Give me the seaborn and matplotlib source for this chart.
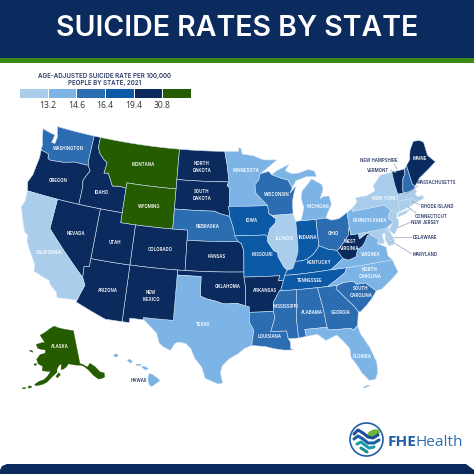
"""
Suicide rates by state - choropleth rebuilt from hand-digitised state outlines
"""

import numpy as np
import pandas as pd
import matplotlib.pyplot as plt
import seaborn as sns
from matplotlib.colors import ListedColormap
from matplotlib.patches import Polygon, Circle, Ellipse

# ============================================================
# 1. DATA
# ============================================================
legend_values = ['13.2', '14.6', '16.4', '19.4', '30.8']
class_colors = ['#A9CDEA', '#7DB4E6', '#2C6DB2', '#0C59A6', '#0B2A5E', '#265C00']

# rate class (0 = lowest, 5 = highest) of each state
class_0 = ['CA', 'IL', 'NY', 'NJ', 'MA', 'CT', 'RI', 'MD', 'DE']
class_1 = ['MN', 'MI', 'TX', 'FL', 'PA', 'VA', 'NC', 'HI']
class_2 = ['WA', 'NE', 'WI', 'OH', 'SC', 'GA', 'AL', 'MS', 'LA', 'NH']
class_3 = ['IA', 'MO', 'IN', 'KY', 'TN']
class_4 = ['OR', 'ID', 'NV', 'UT', 'CO', 'AZ', 'NM', 'KS', 'OK', 'ND', 'SD', 'AR', 'WV', 'ME', 'VT']
class_5 = ['MT', 'WY', 'AK']

# state outlines, (lon, lat)
WA = [(-124.7,48.38),(-123.2,48.15),(-122.75,48.15),(-122.9,47.3),(-122.4,47.3),(-122.3,48.0),(-122.75,49),(-117.03,49),(-117.04,46.42),(-116.92,45.99),(-118.98,46),(-119.3,45.93),(-120.5,45.7),(-121.2,45.65),(-122.3,45.55),(-122.76,45.65),(-122.9,46.1),(-123.4,46.2),(-124.05,46.27),(-124.1,46.9),(-124.4,47.5)]
OR = [(-124.05,46.27),(-123.4,46.2),(-122.9,46.1),(-122.76,45.65),(-122.3,45.55),(-121.2,45.65),(-120.5,45.7),(-119.3,45.93),(-118.98,46),(-116.92,45.99),(-116.5,45.5),(-116.85,45),(-117.2,44.4),(-117.03,43.8),(-117.03,42),(-124.21,42),(-124.55,42.85),(-124.15,43.7),(-124.05,44.7),(-123.95,45.5)]
ID = [(-117.03,49),(-116.05,49),(-116.05,48),(-115.7,47.45),(-114.9,46.9),(-114.35,46.65),(-114.5,45.55),(-113.9,45.65),(-113.45,45.05),(-113,44.45),(-112,44.55),(-111.05,44.48),(-111.05,42),(-117.03,42),(-117.03,43.8),(-117.2,44.4),(-116.85,45),(-116.5,45.5),(-116.92,45.99),(-117.04,46.42)]
MT = [(-116.05,49),(-104.05,49),(-104.05,45),(-111.05,45),(-111.05,44.48),(-112,44.55),(-113,44.45),(-113.45,45.05),(-113.9,45.65),(-114.5,45.55),(-114.35,46.65),(-114.9,46.9),(-115.7,47.45),(-116.05,48)]
WY = [(-111.05,45),(-104.05,45),(-104.05,41),(-111.05,41)]
ND = [(-104.05,49),(-97.23,49),(-96.85,47.6),(-96.56,45.94),(-104.05,45.94)]
SD = [(-104.05,45.94),(-96.56,45.94),(-96.85,45.6),(-96.45,45.3),(-96.45,43.5),(-96.6,43.5),(-96.45,42.5),(-97.9,42.8),(-98.5,43),(-104.05,43)]
NE = [(-104.05,43),(-98.5,43),(-97.9,42.8),(-96.45,42.5),(-96.1,41.7),(-95.9,41.2),(-95.3,40),(-102.05,40),(-102.05,41),(-104.05,41)]
CO = [(-109.05,41),(-102.05,41),(-102.05,37),(-109.05,37)]
KS = [(-102.05,40),(-95.3,40),(-94.9,39.8),(-94.6,39.1),(-94.62,37),(-102.05,37)]
OK = [(-103,37),(-94.62,37),(-94.62,36.5),(-94.43,35.4),(-94.48,33.64),(-95.5,33.9),(-96.6,33.85),(-97.2,33.85),(-98.1,34.1),(-99.2,34.3),(-100,34.56),(-100,36.5),(-103,36.5)]
TX = [(-103,36.5),(-100,36.5),(-100,34.56),(-99.2,34.3),(-98.1,34.1),(-97.2,33.85),(-96.6,33.85),(-95.5,33.9),(-94.48,33.64),(-94.04,33.55),(-94.04,33),(-94.04,32),(-93.55,31.2),(-93.7,30.5),(-93.85,29.7),(-94.7,29.4),(-95.4,28.9),(-96.4,28.4),(-97.2,27.7),(-97.4,27),(-97.15,25.95),(-97.6,25.85),(-98.2,26.05),(-99.1,26.4),(-99.5,27.5),(-100.3,28.3),(-100.8,29.25),(-101.4,29.77),(-102.3,29.88),(-102.7,29.7),(-103.15,28.98),(-104,29.3),(-104.5,29.65),(-104.9,30.6),(-106,31.4),(-106.53,31.78),(-106.62,32),(-103.06,32)]
NM = [(-109.05,37),(-103,37),(-103,36.5),(-103.06,32),(-106.62,32),(-106.53,31.78),(-108.2,31.78),(-108.2,31.33),(-109.05,31.33)]
AZ = [(-114.05,37),(-109.05,37),(-109.05,31.33),(-111.07,31.33),(-114.8,32.5),(-114.72,32.72),(-114.5,33.4),(-114.15,34.3),(-114.6,35),(-114.7,36.1),(-114.05,36.2)]
UT = [(-114.05,42),(-111.05,42),(-111.05,41),(-109.05,41),(-109.05,37),(-114.05,37)]
NV = [(-120,42),(-114.05,42),(-114.05,36.2),(-114.7,36.1),(-114.6,35),(-120,39)]
CA = [(-124.21,42),(-120,42),(-120,39),(-114.6,35),(-114.15,34.3),(-114.5,33.4),(-114.72,32.72),(-117.12,32.53),(-117.3,33),(-118.4,33.75),(-118.5,34.03),(-119.2,34.15),(-120.6,34.55),(-120.65,35.15),(-121.9,36.6),(-122.4,37.2),(-122.5,37.8),(-123,38),(-123.8,39.3),(-124.35,40.3),(-124.1,41)]
MN = [(-97.23,49),(-95.15,49),(-95.15,49.38),(-94.8,49.3),(-94.6,48.72),(-93,48.55),(-91.5,48.07),(-89.5,48),(-92.05,46.7),(-92.3,46.1),(-92.88,45.6),(-92.75,44.75),(-91.2,43.5),(-96.45,43.5),(-96.45,45.3),(-96.85,45.6),(-96.56,45.94),(-96.85,47.6)]
IA = [(-96.6,43.5),(-91.2,43.5),(-91.1,42.7),(-90.15,42.1),(-90.3,41.7),(-91.05,41.2),(-91.4,40.4),(-91.7,40.6),(-95.77,40.58),(-95.9,41.2),(-96.1,41.7),(-96.45,42.5)]
MO = [(-95.77,40.58),(-91.7,40.6),(-91.4,40.4),(-91.5,40),(-90.7,39),(-90.2,38.8),(-90.2,38.4),(-89.5,37.3),(-89.15,37),(-89.5,36.5),(-89.7,36),(-90.37,36),(-90.15,36.5),(-94.62,36.5),(-94.62,37),(-94.6,39.1),(-94.9,39.8),(-95.3,40)]
AR = [(-94.62,36.5),(-90.15,36.5),(-90.37,36),(-89.7,36),(-90.1,35.1),(-90.6,34.6),(-91.1,33.9),(-91.17,33),(-94.04,33),(-94.04,33.55),(-94.48,33.64),(-94.43,35.4)]
LA = [(-94.04,33),(-91.17,33),(-91,32.4),(-91.6,31),(-89.73,31),(-89.6,30.2),(-89.4,29.9),(-89.4,29.2),(-89.1,29.05),(-90.2,29.1),(-91.3,29.3),(-92.3,29.55),(-93.85,29.7),(-93.7,30.5),(-93.55,31.2),(-94.04,32)]
WI = [(-92.05,46.7),(-90.8,46.9),(-90.4,46.55),(-89.1,46.15),(-88.1,45.9),(-87.6,45.1),(-87.95,44.6),(-87.05,45.25),(-87.5,44.4),(-87.75,43.7),(-87.8,42.5),(-90.64,42.5),(-91.1,42.7),(-91.2,43.5),(-92.75,44.75),(-92.88,45.6),(-92.3,46.1)]
IL = [(-90.64,42.5),(-87.8,42.5),(-87.53,41.7),(-87.53,39.3),(-87.6,38.7),(-88.05,37.8),(-88.45,37.1),(-89.15,37),(-89.5,37.3),(-90.2,38.4),(-90.2,38.8),(-90.7,39),(-91.5,40),(-91.4,40.4),(-91.05,41.2),(-90.3,41.7),(-90.15,42.1)]
IN = [(-87.53,41.7),(-87.2,41.75),(-86.8,41.76),(-84.8,41.73),(-84.82,39.1),(-85.2,38.7),(-85.75,38.27),(-86.5,37.93),(-87.1,37.8),(-88.05,37.8),(-87.6,38.7),(-87.53,39.3)]
MI_LOWER = [(-86.8,41.76),(-84.8,41.73),(-83.45,41.73),(-83.1,42.25),(-82.45,43),(-82.6,43.85),(-83.4,43.9),(-83.9,43.7),(-83.3,44.6),(-83.4,45.1),(-84.75,45.78),(-85.5,45.2),(-86.25,44.7),(-86.5,44),(-86.25,43)]
MI_UPPER = [(-90.4,46.55),(-89.1,46.15),(-88.1,45.9),(-87.6,45.1),(-87,45.75),(-85.5,46.05),(-84,45.95),(-84.2,46.5),(-85,46.75),(-86.5,46.5),(-87.5,46.5),(-88.4,46.85),(-87.8,47.45),(-88.7,47.2),(-89.8,46.85)]
OH = [(-84.8,41.73),(-83.45,41.73),(-82.7,41.45),(-81.7,41.5),(-80.52,41.97),(-80.52,40.64),(-80.85,39.7),(-81.7,39),(-82.2,38.6),(-82.6,38.42),(-83.7,38.65),(-84.82,39.1)]
KY = [(-89.5,36.5),(-89.15,37),(-88.45,37.1),(-88.05,37.8),(-87.1,37.8),(-86.5,37.93),(-85.75,38.27),(-85.2,38.7),(-84.82,39.1),(-83.7,38.65),(-82.6,38.42),(-81.97,37.54),(-83.68,36.6),(-88.07,36.5)]
TN = [(-90.3,35),(-90.1,35.1),(-89.7,36),(-89.5,36.5),(-88.07,36.5),(-83.68,36.6),(-81.68,36.59),(-82,36.1),(-84.32,35)]
MS = [(-90.3,35),(-88.2,35),(-88.47,31.9),(-88.4,30.2),(-89.6,30.2),(-89.73,31),(-91.6,31),(-91,32.4),(-91.17,33),(-91.1,33.9),(-90.6,34.6)]
AL = [(-88.2,35),(-85.6,35),(-85.18,32.87),(-85,31),(-87.6,31),(-87.5,30.3),(-88.4,30.2),(-88.47,31.9)]
GA = [(-85.6,35),(-83.1,35),(-83.35,34.7),(-81.4,32.6),(-81.1,32.1),(-81.45,30.72),(-82.05,30.36),(-82.2,30.57),(-84.86,30.7),(-85,31),(-85.18,32.87)]
FL = [(-87.6,31),(-85,31),(-84.86,30.7),(-82.2,30.57),(-82.05,30.36),(-81.45,30.72),(-81.25,29.9),(-80.45,28.4),(-79.95,26.8),(-80.05,25.75),(-80.4,25.15),(-81.1,25.15),(-81.75,26),(-82.2,26.9),(-82.7,27.7),(-82.7,28.6),(-83.4,29.5),(-84,30.1),(-85.3,29.7),(-86.2,30.4),(-87.5,30.3)]
FL_KEYS = [(-81.9,24.55),(-81.3,24.7),(-81.1,24.6),(-81.7,24.45)]
SC = [(-83.35,34.7),(-83.1,35),(-82.3,35.2),(-81.05,35.15),(-80.8,34.82),(-79.67,34.8),(-78.55,33.85),(-79.2,33.2),(-80,32.6),(-80.85,32.05),(-81.1,32.1),(-81.4,32.6)]
NC = [(-84.32,35),(-82,36.1),(-81.68,36.59),(-75.87,36.55),(-75.5,35.25),(-76.5,34.65),(-77.9,33.9),(-78.55,33.85),(-79.67,34.8),(-80.8,34.82),(-81.05,35.15),(-82.3,35.2),(-83.1,35)]
VA = [(-83.68,36.6),(-81.97,37.54),(-81.3,37.3),(-80.3,37.5),(-79.95,38.2),(-79.3,38.4),(-78.87,38.77),(-78.35,39.4),(-77.75,39.3),(-77.05,38.8),(-77.3,38.4),(-76.3,37.9),(-76.3,37),(-75.87,36.55),(-81.68,36.59)]
WV = [(-82.6,38.42),(-82.2,38.6),(-81.7,39),(-80.85,39.7),(-80.52,40.64),(-80.52,39.72),(-79.48,39.72),(-79.48,39.2),(-78.4,39.62),(-77.75,39.3),(-78.35,39.4),(-78.87,38.77),(-79.3,38.4),(-79.95,38.2),(-80.3,37.5),(-81.3,37.3),(-81.97,37.54)]
MD = [(-79.48,39.72),(-75.79,39.72),(-75.7,38.46),(-75.05,38.45),(-75.25,38.03),(-75.9,37.95),(-76.2,38.6),(-76.05,39.3),(-76.5,39.2),(-76.4,38.3),(-77.3,38.4),(-77.05,38.8),(-77.75,39.3),(-78.4,39.62),(-79.48,39.2)]
DE = [(-75.79,39.72),(-75.5,39.83),(-75.55,39.45),(-75.05,38.45),(-75.7,38.46)]
PA = [(-80.52,41.97),(-79.76,42.27),(-79.76,42),(-75.35,42),(-74.7,41.36),(-75.1,40.95),(-75.2,40.6),(-74.72,40.15),(-75.5,39.83),(-75.79,39.72),(-80.52,39.72)]
NJ = [(-74.7,41.36),(-73.9,41),(-74.2,40.5),(-73.98,40.3),(-74.1,39.75),(-74.9,38.95),(-75.5,39.5),(-74.72,40.15),(-75.2,40.6),(-75.1,40.95)]
NY = [(-79.76,42),(-79.76,42.27),(-78.9,42.85),(-79.05,43.27),(-77.5,43.25),(-76.2,43.55),(-76.3,44.1),(-75,44.98),(-73.34,45.01),(-73.35,43.75),(-73.25,42.75),(-73.5,42.05),(-73.5,41.3),(-73.65,41),(-73.9,41),(-74.7,41.36),(-75.35,42)]
LONG_ISLAND = [(-74,40.6),(-73.7,40.88),(-72.6,40.98),(-72,41.08),(-72.8,40.7),(-73.9,40.55)]
CT = [(-73.5,42.05),(-71.8,42.02),(-71.85,41.32),(-73.65,41),(-73.5,41.3)]
RI = [(-71.8,42.02),(-71.38,42.02),(-71.2,41.5),(-71.85,41.32)]
MA = [(-73.5,42.05),(-73.25,42.75),(-72.46,42.73),(-71.3,42.7),(-70.85,42.87),(-70.65,42.6),(-71,42.3),(-70.6,41.95),(-70.05,42.05),(-70,41.7),(-70.6,41.6),(-71.2,41.5),(-71.38,42.02),(-71.8,42.02)]
VT = [(-73.34,45.01),(-71.5,45.01),(-71.6,44.5),(-72.05,44.1),(-72.45,43),(-72.46,42.73),(-73.25,42.75),(-73.35,43.75)]
NH = [(-71.5,45.01),(-71.08,45.3),(-70.98,43.4),(-70.7,43.07),(-70.85,42.87),(-71.3,42.7),(-72.46,42.73),(-72.45,43),(-72.05,44.1),(-71.6,44.5)]
ME = [(-71.08,45.3),(-70.4,45.8),(-70.25,46.2),(-70,46.7),(-69.2,47.45),(-68.3,47.35),(-67.8,47.07),(-67.8,45.7),(-67.45,45.3),(-67,44.85),(-68.5,44.25),(-69.8,43.75),(-70.7,43.07),(-70.98,43.4)]

AK = [(-141,69.65),(-141,60.3),(-139.5,59.9),(-137.5,58.9),(-135.5,59.7),(-133.4,58.4),(-131.8,56.6),(-130,55.9),(-130.5,54.8),(-131.8,54.7),(-133.6,54.8),(-135.5,56.2),(-136.6,57.4),(-137.5,58.2),(-139,59.2),(-140.5,59.75),(-143,60),(-145,60.3),(-147.5,60.7),(-148.5,60),(-150.5,59.3),(-151.8,59.2),(-151.5,60.8),(-150,61.2),(-152.8,60.4),(-154,59.4),(-154,58.5),(-156.5,57.2),(-159,55.6),(-161,54.9),(-164,54.3),(-164.8,54.6),(-163,55.6),(-160.5,56.3),(-158.8,57.4),(-157.5,58.7),(-159,58.6),(-162,58.7),(-162,59.9),(-164.7,60.4),(-166,61.6),(-164.5,63),(-161.5,63.6),(-161.5,64.5),(-163.8,64.5),(-166.5,64.6),(-168.1,65.6),(-164,66.5),(-162.5,66.4),(-163.7,67.1),(-166.7,68.35),(-163.5,69.3),(-160,70.5),(-156.6,71.35),(-152,70.8),(-146,70.2)]
AK_KODIAK = [(-154.6,57.4),(-153,58.4),(-152.2,57.8),(-153.8,56.9)]
AK_NUNIVAK = [(-167,60.2),(-165.6,60.4),(-165.6,59.9),(-166.8,59.85)]
AK_STLAWRENCE = [(-171.7,63.5),(-170,63.7),(-168.8,63.3),(-170.5,63.3)]
AK_ALEUT1 = [(-167.5,53.9),(-166,54),(-166.2,53.5),(-167.6,53.3)]
AK_ALEUT2 = [(-170,53),(-168.5,53.3),(-168.8,52.9),(-170,52.7)]

HI_KAUAI = [(-159.75,22.05),(-159.55,22.22),(-159.3,22.15),(-159.35,21.9),(-159.6,21.9)]
HI_OAHU = [(-158.25,21.55),(-158,21.7),(-157.7,21.45),(-157.95,21.3)]
HI_MOLOKAI = [(-157.3,21.2),(-156.75,21.17),(-156.85,21.05),(-157.3,21.08)]
HI_MAUI = [(-156.7,20.9),(-156.5,21),(-156,20.75),(-156.3,20.6),(-156.5,20.75)]
HI_BIG = [(-155.9,20.25),(-155.55,20.12),(-155,19.75),(-154.8,19.5),(-155.65,18.95),(-155.9,19.1),(-156.05,19.7)]

lower48 = {'WA': [WA], 'OR': [OR], 'ID': [ID], 'MT': [MT], 'WY': [WY], 'ND': [ND], 'SD': [SD], 'NE': [NE],
           'CO': [CO], 'KS': [KS], 'OK': [OK], 'TX': [TX], 'NM': [NM], 'AZ': [AZ], 'UT': [UT], 'NV': [NV],
           'CA': [CA], 'MN': [MN], 'IA': [IA], 'MO': [MO], 'AR': [AR], 'LA': [LA], 'WI': [WI], 'IL': [IL],
           'IN': [IN], 'MI': [MI_LOWER, MI_UPPER], 'OH': [OH], 'KY': [KY], 'TN': [TN], 'MS': [MS], 'AL': [AL],
           'GA': [GA], 'FL': [FL, FL_KEYS], 'SC': [SC], 'NC': [NC], 'VA': [VA], 'WV': [WV], 'MD': [MD],
           'DE': [DE], 'PA': [PA], 'NJ': [NJ], 'NY': [NY, LONG_ISLAND], 'CT': [CT], 'RI': [RI], 'MA': [MA],
           'VT': [VT], 'NH': [NH], 'ME': [ME]}
alaska = [AK, AK_KODIAK, AK_NUNIVAK, AK_STLAWRENCE, AK_ALEUT1, AK_ALEUT2]
hawaii = [HI_KAUAI, HI_OAHU, HI_MOLOKAI, HI_MAUI, HI_BIG]

# labels inside the states
white_labels = ['WASHINGTON', 'MONTANA', 'NORTH\nDAKOTA', 'OREGON', 'IDAHO', 'SOUTH\nDAKOTA', 'WYOMING', 'NEBRASKA',
                'NEVADA', 'UTAH', 'COLORADO', 'CALIFORNIA', 'KANSAS', 'ARIZONA', 'NEW\nMEXICO', 'OKLAHOMA',
                'MINNESOTA', 'WISCONSIN', 'MICHIGAN', 'IOWA', 'ILLINOIS', 'INDIANA', 'OHIO', 'PENNSYLVANIA',
                'NEW YORK', 'MISSOURI', 'WEST\nVIRGINIA', 'VIRGINIA', 'KENTUCKY', 'NORTH\nCAROLINA', 'TENNESSEE',
                'ARKANSAS', 'SOUTH\nCAROLINA', 'MISSISSIPPI', 'ALABAMA', 'GEORGIA', 'LOUISIANA', 'FLORIDA',
                'TEXAS', 'ALASKA', 'MAINE']
dark_labels = ['HAWAII', 'NEW HAMPSHIRE', 'VERMONT', 'MASSACHUSETTS', 'RHODE ISLAND', 'CONNECTICUT', 'NEW JERSEY',
               'DELAWARE', 'MARYLAND']

# ============================================================
# 2. PROJECTION + COLOURS
# ============================================================
def albers(points, lon0, lat0, p1, p2, scale, x0, y0, steps=8):
    pts = np.array(points + points[:1], dtype=float)
    # split long edges so the straight borders bend along the projection
    lon = np.concatenate([np.linspace(pts[i, 0], pts[i + 1, 0], steps, endpoint=False) for i in range(len(pts) - 1)])
    lat = np.concatenate([np.linspace(pts[i, 1], pts[i + 1, 1], steps, endpoint=False) for i in range(len(pts) - 1)])
    p1, p2 = np.radians(p1), np.radians(p2)
    n = (np.sin(p1) + np.sin(p2)) / 2
    c = np.cos(p1) ** 2 + 2 * n * np.sin(p1)
    rho = np.sqrt(c - 2 * n * np.sin(np.radians(lat))) / n
    rho0 = np.sqrt(c - 2 * n * np.sin(np.radians(lat0))) / n
    theta = n * np.radians(lon - lon0)
    return np.column_stack([x0 + scale * rho * np.sin(theta), y0 - scale * (rho0 - rho * np.cos(theta))])

state_color = {}
for i, group in enumerate([class_0, class_1, class_2, class_3, class_4, class_5]):
    for st in group:
        state_color[st] = class_colors[i]

# ============================================================
# 3. FIGURE
# ============================================================
sns.set_theme(style='white')
plt.rcParams['font.family'] = ['Inter', 'DejaVu Sans']

NAVY = '#0B2A5E'
fig = plt.figure(figsize=(4.74, 4.74), dpi=100)
ax = fig.add_axes([0, 0, 1, 1])
ax.set_xlim(0, 474)
ax.set_ylim(474, 0)
ax.axis('off')

# --- header and footer ---
ax.add_patch(Polygon([(0, 0), (474, 0), (474, 58), (0, 58)], color=NAVY, lw=0))
ax.add_patch(Polygon([(0, 58), (474, 58), (474, 62.5), (0, 62.5)], color='#3B8A14', lw=0))
ax.add_patch(Polygon([(0, 470), (2, 466), (7, 464), (466, 464), (474, 470), (474, 474), (0, 474)], color=NAVY, lw=0))
ax.text(237, 28.5, 'SUICIDE RATES BY STATE', color='white', fontsize=20.5, fontweight=600, ha='center', va='center')

# --- states ---
edge = dict(edgecolor='#CFE0F2', linewidth=0.4, joinstyle='round')
for st, parts in lower48.items():
    for part in parts:
        ax.add_patch(Polygon(albers(part, -96, 37.5, 29.5, 45.5, 574, 233, 267), facecolor=state_color[st], **edge))
for part in alaska:
    ax.add_patch(Polygon(albers(part, -154, 63, 55, 65, 206, 57, 356, steps=2), facecolor=state_color['AK'], edgecolor=state_color['AK'], linewidth=0.2))
for part in hawaii:
    ax.add_patch(Polygon(albers(part, -157, 20, 19, 22, 570, 139, 376, steps=2), facecolor=state_color['HI'], edgecolor=state_color['HI'], linewidth=0.2))

# --- state names ---
white_xy = [(68, 149), (143, 164), (202, 167), (58, 180), (102, 192), (202, 195), (149, 207), (208, 226),
            (76, 233), (115, 242), (160, 249), (49, 252), (217, 257), (108, 291), (151, 296), (228, 286),
            (246, 170), (277, 194), (318, 206), (252, 220), (285, 238), (308, 237), (333, 233), (370, 220),
            (384, 198), (262, 254), (350, 245), (371, 255), (319, 263), (370, 273), (310, 281),
            (265, 291), (361, 292), (286, 306), (312, 312), (341, 312), (270, 337), (362, 356),
            (203, 324), (60, 347), (420, 158)]
for name, (x, y) in zip(white_labels, white_xy):
    ax.text(x, y, name, color='white', fontsize=3.1, fontweight=600, ha='center', va='center', linespacing=1.35)

dark_xy = [(139, 380), (379, 161), (378, 170), (436, 182), (437, 206), (431, 216), (425, 222), (425, 237), (425, 254)]
for name, (x, y) in zip(dark_labels, dark_xy):
    ax.text(x, y, name, color='#2A3A66', fontsize=3.1, fontweight=600, ha='center', va='center')

leaders = [((394, 164), (397, 169)), ((390, 170), (396, 173)), ((418, 186), (404, 195)), ((420, 205), (412, 201)),
           ((416, 213), (408, 207)), ((411, 222), (397, 228)), ((412, 237), (394, 237)), ((412, 254), (394, 243))]
for a, b in leaders:
    ax.plot([a[0], b[0]], [a[1], b[1]], color='#8FA3C0', lw=0.5)

# --- legend strip ---
ax.text(105, 79.5, 'AGE-ADJUSTED SUICIDE RATE PER 100,000\nPEOPLE BY STATE, 2021', color='#2A3A66', fontsize=4.45,
        fontweight=600, ha='center', va='center', linespacing=1.25)
leg_ax = fig.add_axes([19 / 474, 1 - 98 / 474, 172 / 474, 10 / 474])
legend_df = pd.DataFrame([list(range(6))])
sns.heatmap(legend_df, ax=leg_ax, cmap=ListedColormap(class_colors), cbar=False, linewidths=0.5, linecolor='white',
            xticklabels=False, yticklabels=False, vmin=-0.5, vmax=5.5)
leg_ax.set_xticks(range(1, 6))
leg_ax.set_xticklabels(legend_values, fontsize=6.2, color='#333333', family='Open Sans')
leg_ax.tick_params(axis='x', length=0, pad=2.5)
leg_ax.set_xlabel('')
leg_ax.set_ylabel('')

# --- logo ---
ax.add_patch(Circle((366.5, 439.5), 16.5, facecolor='white', edgecolor='#1F5FA8', linewidth=1.2))
ax.add_patch(Ellipse((373.5, 433.5), 13, 7.5, angle=-20, color='#6CB33F', lw=0))
for pts, col, w in [([(354, 434), (358, 430), (363, 433), (368, 437), (373, 438), (378, 435)], '#1F4E96', 2.2),
                    ([(354, 439), (358, 436), (363, 439), (368, 443), (374, 443), (379, 440)], '#1F5FA8', 2.2),
                    ([(357, 444), (361, 442), (365, 445), (369, 448), (374, 447)], '#1B9AA8', 2.2),
                    ([(361, 448), (364, 450), (367, 452)], '#1B8A98', 2.2)]:
    ax.plot([p[0] for p in pts], [p[1] for p in pts], color=col, lw=w, solid_capstyle='round')
ax.text(387.5, 442, 'FHE', color='#1F5FA8', fontsize=11.1, fontweight='bold', family='Open Sans', ha='left', va='center')
ax.text(416, 442, 'Health', color='#2F70B5', fontsize=11.1, family='Open Sans', ha='left', va='center')

plt.savefig('out.png', dpi=100)
